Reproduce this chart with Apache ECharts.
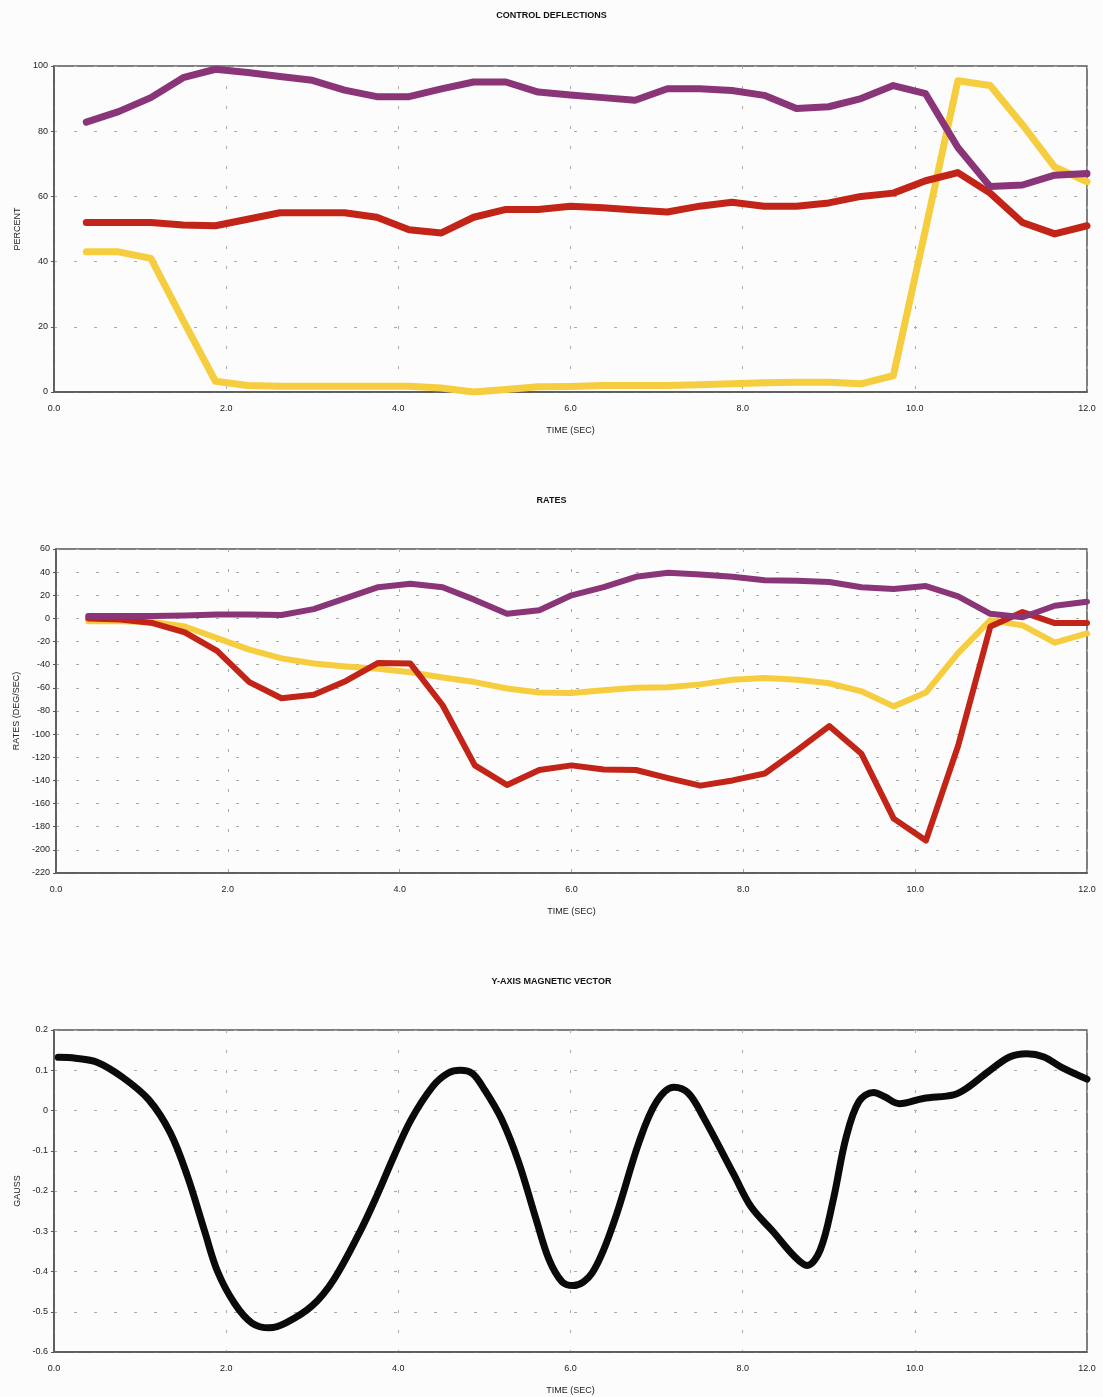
<!DOCTYPE html>
<html><head><meta charset="utf-8">
<script src="https://cdn.jsdelivr.net/npm/echarts/dist/echarts.min.js"></script>
<style>html,body{margin:0;padding:0;background:#fcfcfc}#c{width:1103px;height:1397px}</style>
</head><body><div id="c"></div><script>
// Time samples for control deflections and rates (sec)
const time = [0.375, 0.75, 1.125, 1.5, 1.875, 2.25, 2.625, 3.0, 3.375, 3.75, 4.125, 4.5, 4.875, 5.25, 5.625, 6.0,
  6.375, 6.75, 7.125, 7.5, 7.875, 8.25, 8.625, 9.0, 9.375, 9.75, 10.125, 10.5, 10.875, 11.25, 11.625, 12.0];

// CONTROL DEFLECTIONS (percent)
const deflPurple = [82.8, 86, 90.3, 96.4, 99, 98, 96.8, 95.6, 92.6, 90.6, 90.6, 93, 95.1, 95.1, 92, 91.1,
  90.3, 89.5, 93, 93, 92.5, 91, 87, 87.5, 90, 94, 91.5, 75, 63, 63.5, 66.5, 67];
const deflRed = [52, 52, 52, 51.2, 51, 53, 55, 55, 55, 53.6, 49.8, 48.8, 53.6, 56, 56, 57,
  56.5, 55.8, 55.2, 57, 58.2, 57, 57, 58, 60, 61, 64.8, 67.3, 61, 52, 48.5, 51];
const deflYellow = [43, 43, 41, 22, 3.3, 2, 1.8, 1.8, 1.8, 1.8, 1.8, 1.2, 0, 0.8, 1.6, 1.7,
  2, 2, 2, 2.2, 2.5, 2.8, 3, 3, 2.5, 5, 50, 95.5, 94, 82, 69, 64.5];

// RATES (deg/sec)
const ratePurple = [2, 2, 2, 2.5, 3.5, 3.5, 3, 8, 17.5, 27, 30, 27, 16, 4, 7, 20,
  27, 36, 39.5, 38, 36, 33, 32.5, 31.5, 27, 25.5, 28, 19, 4, 1, 11, 14.5];
const rateRed = [0, -1, -4, -12, -28, -55, -69, -66, -54, -38.5, -39, -75, -127, -144, -131, -127,
  -130.5, -131, -138, -144.5, -140, -134, -114, -93, -117, -173, -192, -110, -7, 5.5, -4, -4];
const rateYellow = [-2.5, -2.5, -3, -7, -17, -27, -34.5, -39, -41.5, -43.5, -46.5, -51, -55, -60.5, -64, -64.5,
  -62, -60, -59.5, -57, -53, -51.5, -53, -56, -63, -76, -64, -30, -1.5, -6, -21, -13];

// Y-AXIS MAGNETIC VECTOR (gauss)
const gaussTime = [0.05, 0.25, 0.5, 0.8, 1.1, 1.35, 1.55, 1.75, 1.9, 2.1, 2.3, 2.5, 2.7, 3.0, 3.25, 3.55, 3.75, 3.95,
  4.15, 4.4, 4.58, 4.72, 4.86, 5.0, 5.2, 5.4, 5.6, 5.75, 5.9, 6.03, 6.25, 6.5, 6.8, 7.0, 7.2, 7.37, 7.55, 7.9, 8.1, 8.35,
  8.6, 8.75, 8.9, 9.05, 9.2, 9.35, 9.52, 9.65, 9.82, 10.1, 10.45, 10.6, 10.85, 11.1, 11.3, 11.5, 11.7, 12.0];
const gaussVal = [0.132, 0.13, 0.12, 0.082, 0.027, -0.055, -0.163, -0.3, -0.4, -0.48, -0.528, -0.54, -0.527, -0.485,
  -0.42, -0.303, -0.212, -0.113, -0.022, 0.06, 0.093, 0.1, 0.092, 0.052, -0.022, -0.13, -0.27, -0.37, -0.425, -0.435,
  -0.404, -0.28, -0.076, 0.022, 0.058, 0.043, -0.019, -0.16, -0.24, -0.3, -0.362, -0.385, -0.347, -0.224, -0.068,
  0.022, 0.045, 0.034, 0.017, 0.03, 0.039, 0.055, 0.096, 0.133, 0.141, 0.133, 0.108, 0.078];

const xTicks = ['0.0', '2.0', '4.0', '6.0', '8.0', '10.0', '12.0'];

const FONT = '"Liberation Sans", Arial, sans-serif';
const PURPLE = '#8a3577', RED = '#c22418', YELLOW = '#f6cd3e';
const pair = (ts, vs) => ts.map((t, i) => [t, vs[i]]);

const grids = [
  {left: 54, right: 16, top: 66, height: 326},
  {left: 56, right: 16, top: 549, height: 324},
  {left: 54, right: 16, top: 1030, height: 322}
];

function xAxis(i) {
  return {
    type: 'value', gridIndex: i, min: 0, max: 12, interval: 2,
    name: 'TIME (SEC)', nameLocation: 'middle', nameGap: 34,
    nameTextStyle: {fontFamily: FONT, fontSize: 9, color: '#222'},
    axisLine: {show: true, onZero: false, lineStyle: {color: '#555', width: 1.5}},
    axisTick: {show: false},
    axisLabel: {fontFamily: FONT, fontSize: 9, color: '#222', margin: 12,
      formatter: v => xTicks[Math.round(v / 2)]},
    splitLine: {show: true, lineStyle: {color: '#aaa', type: [3, 17], width: 1}}
  };
}
function yAxis(i, name, min, max, interval, gap, fmt) {
  return {
    type: 'value', gridIndex: i, min, max, interval,
    name, nameLocation: 'middle', nameGap: gap, nameRotate: 90,
    nameTextStyle: {fontFamily: FONT, fontSize: 9, color: '#222'},
    axisLine: {show: true, onZero: false, lineStyle: {color: '#555', width: 1.5}},
    axisTick: {show: true, length: 3, lineStyle: {color: '#555'}},
    axisLabel: {fontFamily: FONT, fontSize: 9, color: '#222', margin: 6, formatter: fmt},
    splitLine: {show: true, lineStyle: {color: '#aaa', type: [3, 17], width: 1}}
  };
}
function line(xi, data, color, w, smooth) {
  return {
    type: 'line', xAxisIndex: xi, yAxisIndex: xi, data, showSymbol: false, symbol: 'none',
    smooth: smooth || false, animation: false,
    lineStyle: {color, width: w, cap: 'round', join: 'round'}
  };
}

const chart = echarts.init(document.getElementById('c'), null, {renderer: 'canvas'});
const titleStyle = {fontFamily: FONT, fontSize: 9, fontWeight: 'bold', color: '#111'};
chart.setOption({
  backgroundColor: '#fcfcfc',
  animation: false,
  title: [
    {text: 'CONTROL DEFLECTIONS', left: 'center', top: 6, textStyle: titleStyle},
    {text: 'RATES', left: 'center', top: 491, textStyle: titleStyle},
    {text: 'Y-AXIS MAGNETIC VECTOR', left: 'center', top: 972, textStyle: titleStyle}
  ],
  grid: grids.map(g => Object.assign({show: true, borderColor: '#555', borderWidth: 1.5, backgroundColor: 'transparent'}, g)),
  xAxis: [xAxis(0), xAxis(1), xAxis(2)],
  yAxis: [
    yAxis(0, 'PERCENT', 0, 100, 20, 32, v => String(v)),
    yAxis(1, 'RATES (DEG/SEC)', -220, 60, 20, 34, v => String(v)),
    yAxis(2, 'GAUSS', -0.6, 0.2, 0.1, 32, v => { const r = Math.round(v * 10) / 10; return r === 0 ? '0' : r.toFixed(1); })
  ],
  series: [
    line(0, pair(time, deflYellow), YELLOW, 7),
    line(0, pair(time, deflRed), RED, 7),
    line(0, pair(time, deflPurple), PURPLE, 7),
    line(1, pair(time, rateYellow), YELLOW, 6),
    line(1, pair(time, rateRed), RED, 6),
    line(1, pair(time, ratePurple), PURPLE, 6),
    line(2, pair(gaussTime, gaussVal), '#0a0a0a', 7, 0.35)
  ]
});
</script></body></html>
